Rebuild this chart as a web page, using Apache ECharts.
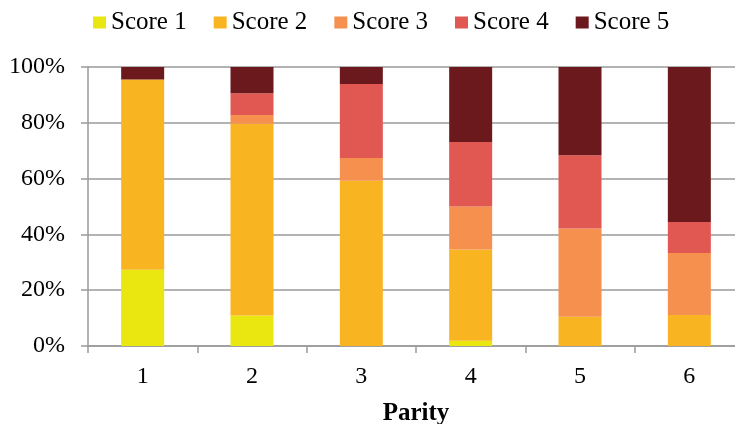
<!DOCTYPE html>
<html>
<head>
<meta charset="utf-8">
<script src="https://cdn.jsdelivr.net/npm/echarts@6/dist/echarts.min.js"></script>
<style>
  html, body { margin: 0; padding: 0; background: #fff; }
  #chart { width: 735px; height: 424px; }
</style>
</head>
<body>
<div id="chart"></div>
<script>
// Share of cows in each score class per parity (%)
const parities = ['1', '2', '3', '4', '5', '6'];
const seriesNames = ['Score 1', 'Score 2', 'Score 3', 'Score 4', 'Score 5'];
const score1 = [27.3, 10.9, 0, 1.9, 0, 0];
const score2 = [68.2, 68.8, 59.2, 32.7, 10.5, 11.1];
const score3 = [0, 3.1, 8.2, 15.4, 31.6, 22.2];
const score4 = [0, 7.8, 26.5, 23.1, 26.3, 11.1];
const score5 = [4.5, 9.4, 6.1, 26.9, 31.6, 55.6];
const colors = ['#e9e610', '#f9b422', '#f5904e', '#e15853', '#6c191e'];

const font = "'Liberation Serif', 'Times New Roman', serif";
const gray = '#9a9a9a';

const allValues = [score1, score2, score3, score4, score5];

const chart = echarts.init(document.getElementById('chart'));
chart.setOption({
  animation: false,
  textStyle: { fontFamily: font },
  legend: {
    top: 10,
    left: 93,
    padding: 0,
    itemWidth: 13,
    itemHeight: 12,
    itemGap: 27,
    icon: 'rect',
    textStyle: { fontFamily: font, fontSize: 25, color: '#000' },
    data: seriesNames
  },
  grid: {
    left: 88, top: 67, width: 656, height: 279,
    containLabel: false,
    outerBoundsMode: 'none'
  },
  xAxis: {
    type: 'category',
    data: parities,
    name: 'Parity',
    nameLocation: 'middle',
    nameGap: 55,
    nameTextStyle: { fontFamily: font, fontSize: 25, fontWeight: 'bold', color: '#000' },
    axisLine: { lineStyle: { color: gray, width: 1.5 } },
    axisTick: { show: true, length: 7, lineStyle: { color: gray, width: 1.5 } },
    axisLabel: { fontFamily: font, fontSize: 24, color: '#000', margin: 19 }
  },
  yAxis: {
    type: 'value',
    min: 0,
    max: 100,
    interval: 20,
    axisLine: { show: true, lineStyle: { color: gray, width: 1.5 } },
    axisTick: { show: true, length: 7, lineStyle: { color: gray, width: 1.5 } },
    axisLabel: { fontFamily: font, fontSize: 24, color: '#000', margin: 23, formatter: '{value}%' },
    splitLine: { lineStyle: { color: gray, width: 1.5 } }
  },
  series: seriesNames.map((name, i) => ({
    name: name,
    type: 'bar',
    stack: 'total',
    barWidth: 43,
    itemStyle: { color: colors[i] },
    data: allValues[i]
  }))
});
</script>
</body>
</html>
